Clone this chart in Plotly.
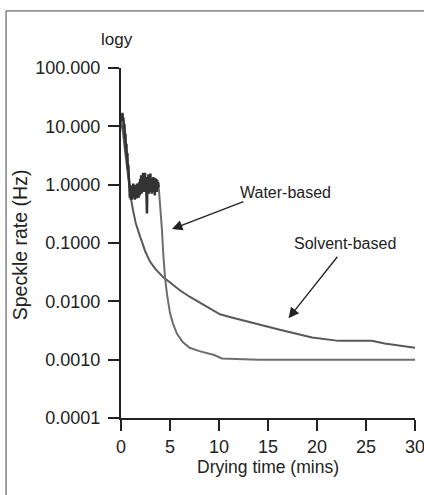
import plotly.graph_objects as go

# ---- data ----
water_x = [0.0, 0.05, 0.1, 0.15, 0.2, 0.25, 0.3, 0.35, 0.4, 0.45, 0.5, 0.55, 0.6, 0.65, 0.7, 0.75, 0.8,
           0.85, 0.90, 0.95, 1.00, 1.05, 1.10, 1.15, 1.20, 1.25, 1.30, 1.35, 1.40, 1.45, 1.50, 1.55,
           1.60, 1.65, 1.70, 1.75, 1.80, 1.85, 1.90, 1.95, 2.00, 2.05, 2.10, 2.15, 2.20, 2.25, 2.30,
           2.35, 2.40, 2.45, 2.50, 2.55, 2.60, 2.65, 2.70, 2.75, 2.80, 2.85, 2.90, 2.95, 3.00, 3.05,
           3.10, 3.15, 3.20, 3.25, 3.30, 3.35, 3.40, 3.45, 3.50, 3.55, 3.60, 3.65, 3.70, 3.75, 3.80,
           3.85, 4.0, 4.1, 4.18, 4.3, 4.4, 4.49, 4.7, 5.0, 5.3, 5.7, 6.3, 7.0, 8.0, 8.8, 9.5, 10.3,
           14.0, 20.0, 25.0, 30.0]
water_y = [12, 16, 13, 17, 12, 14, 9, 11, 6, 7.5, 4, 5, 2.8, 3.5, 1.8, 2.2, 1.3,
           1.1, 0.6, 1.0, 0.55, 0.95, 0.55, 0.9, 0.6, 1.05, 0.65, 0.95, 0.55, 1.0, 0.65, 0.9,
           0.58, 1.05, 0.7, 0.95, 0.6, 1.1, 0.65, 1.25, 0.75, 1.45, 0.7, 1.35, 0.8, 1.6, 0.75,
           1.4, 0.85, 1.6, 0.75, 1.35, 0.65, 0.32, 1.25, 0.75, 1.5, 0.7, 1.35, 0.8, 1.55, 0.75,
           1.3, 0.7, 1.25, 0.8, 1.35, 0.75, 1.2, 0.65, 1.3, 0.8, 1.25, 0.75, 1.2, 0.85, 1.1,
           0.9, 0.45, 0.25, 0.17, 0.07, 0.04, 0.026, 0.013, 0.0063, 0.0042, 0.0028, 0.002, 0.0016,
           0.0014, 0.0013, 0.0012, 0.00105, 0.001, 0.001, 0.001, 0.001]
water_noisy_until = 3.85   # end of the noisy plateau (minutes)

solvent_x = [0.0, 0.2, 0.4, 0.6, 0.8, 1.0, 1.22, 1.5, 1.94, 2.5, 2.96, 3.5, 4.3, 5.0, 6.0, 7.0,
             8.06, 9.0, 10.1, 11.3, 12.5, 13.1, 14.2, 16.1, 19.5, 22.2, 25.6, 26.9, 30.0]
solvent_y = [12, 8, 4, 2, 1.0, 0.6, 0.37, 0.22, 0.13, 0.07, 0.048, 0.036, 0.026, 0.021, 0.0155,
             0.012, 0.0095, 0.0078, 0.006, 0.0053, 0.0047, 0.0044, 0.0039, 0.0033, 0.0024, 0.0021,
             0.0021, 0.0019, 0.0016]

x_ticks = [0, 5, 10, 15, 20, 25, 30]
y_ticks = [0.0001, 0.001, 0.01, 0.1, 1, 10, 100]
y_tick_labels = ["0.0001", "0.0010", "0.0100", "0.1000", "1.0000", "10.000", "100.000"]

FONT = "Liberation Sans, Arial, sans-serif"
TXT = "#222222"

n_noisy = sum(1 for v in water_x if v <= water_noisy_until)

fig = go.Figure()
fig.add_trace(go.Scatter(x=solvent_x, y=solvent_y, mode="lines", name="Solvent-based",
                         line=dict(color="#585858", width=2)))
fig.add_trace(go.Scatter(x=water_x[n_noisy - 1:], y=water_y[n_noisy - 1:], mode="lines",
                         name="Water-based", line=dict(color="#6e6e6e", width=2)))
fig.add_trace(go.Scatter(x=water_x[:n_noisy], y=water_y[:n_noisy], mode="lines",
                         name="Water-based (noisy)", line=dict(color="#333333", width=2.5)))

axis_common = dict(showgrid=False, zeroline=False, showline=True, linecolor="#222222", linewidth=2,
                   ticks="outside", ticklen=11, tickwidth=2, tickcolor="#222222", automargin=False,
                   tickfont=dict(family=FONT, size=18, color=TXT))

fig.update_xaxes(range=[0, 30], tickvals=x_ticks, ticklabeloverflow="allow", **axis_common,
                 title=dict(text="Drying time (mins)", font=dict(family=FONT, size=17.5, color=TXT),
                            standoff=4))
fig.update_yaxes(type="log", range=[-4, 2], tickvals=y_ticks, ticktext=y_tick_labels,
                 ticklabelstandoff=4, **axis_common)

# frame (top and left edges visible)
fig.add_shape(type="rect", xref="paper", yref="paper", x0=-0.391, x1=1.3, y0=-0.6, y1=1.163,
              line=dict(color="#444444", width=1), layer="below")

fig.add_annotation(text="logy", xref="paper", yref="paper", x=-0.014, y=1.08,
                   xanchor="center", yanchor="middle", showarrow=False,
                   font=dict(family=FONT, size=17, color=TXT))
fig.add_annotation(text="Speckle rate (Hz)", xref="paper", yref="paper", x=-0.343, y=0.494,
                   xanchor="center", yanchor="middle", textangle=-90, showarrow=False,
                   font=dict(family=FONT, size=19.5, color=TXT))

# labels with arrows (log axis -> annotation y in log10 units)
lab_font = dict(family=FONT, size=16, color=TXT)
fig.add_annotation(text="Water-based", x=16.8, y=-0.127, xanchor="center", yanchor="middle",
                   showarrow=False, font=lab_font)
fig.add_annotation(text="", x=5.2, y=-0.76, ax=12.65, ay=-0.281, axref="x", ayref="y",
                   showarrow=True, arrowhead=2, arrowsize=1.6, arrowwidth=1.3, arrowcolor="#222222")
fig.add_annotation(text="Solvent-based", x=22.9, y=-1.0, xanchor="center", yanchor="middle",
                   showarrow=False, font=lab_font)
fig.add_annotation(text="", x=17.1, y=-2.29, ax=22.2, ay=-1.21, axref="x", ayref="y",
                   showarrow=True, arrowhead=2, arrowsize=1.6, arrowwidth=1.3, arrowcolor="#222222")

fig.update_layout(width=424, height=495, margin=dict(l=121, r=9, t=68, b=77),
                  paper_bgcolor="white", plot_bgcolor="white", showlegend=False,
                  font=dict(family=FONT, color=TXT))

# remove the default 8px page margin so the figure fills the window exactly
fig.write_html("out.html", config={"displayModeBar": False},
               post_script="document.body.style.margin='0px';")
